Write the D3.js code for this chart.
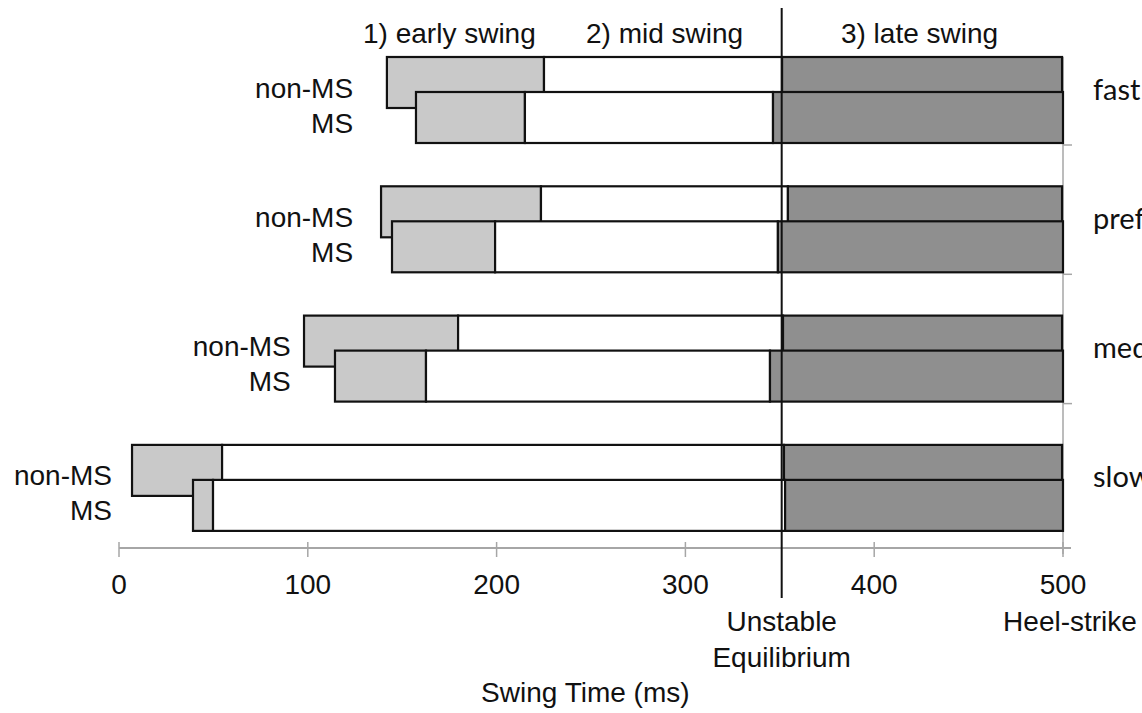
<!DOCTYPE html>
<html>
<head>
<meta charset="utf-8">
<script src="https://cdn.jsdelivr.net/npm/d3@7"></script>
<style>
  html, body { margin: 0; padding: 0; background: #fff; }
  svg { display: block; }
  text { font-family: "Liberation Sans", Arial, sans-serif; fill: #111; }
</style>
</head>
<body>
<svg id="chart" width="1142" height="713"></svg>
<script>
// ---------------- data ----------------
const groups = ["fast", "preferred", "medium", "slow"];
const subjects = ["non-MS", "MS"];
// phase boundaries (ms) per group, in the order of `groups`
const earlyStartNonMS = [141.9, 138.8, 98.0, 6.9];
const earlyStartMS    = [157.3, 144.6, 114.4, 39.2];
const midStartNonMS   = [225.1, 223.5, 179.6, 54.6];
const midStartMS      = [215.0, 199.2, 162.6, 49.8];
const lateStartNonMS  = [351.2, 354.3, 351.7, 352.2];
const lateStartMS     = [346.4, 349.0, 344.8, 352.8];
const heelStrikeNonMS = [499.5, 499.5, 499.5, 499.5];
const heelStrikeMS    = [500, 500, 500, 500];
const xTicks = [0, 100, 200, 300, 400, 500];
const phaseNames = ["1) early swing", "2) mid swing", "3) late swing"];
const phaseLabelAt = [175, 289, 424];          // ms
const rowLabelEndAt = [124, 124, 91, -3.7];     // ms (right edge of row labels)
const unstableEquilibrium = 351;               // ms
const heelStrikeAt = 500;                       // ms

// ---------------- scales ----------------
const svg = d3.select("#chart");
const x = d3.scaleLinear().domain([0, 500]).range([119, 1063]);
const y = d3.scaleBand().domain(groups).range([57, 57 + 4 * 129.3]).paddingInner(0).paddingOuter(0);
const rowOffset = d3.scalePoint().domain(subjects).range([0, 35]);
const barH = 51;
const axisY = 548;
const fs = "28px";

const phaseFill = ["#c9c9c9", "#ffffff", "#8f8f8f"];

// build rows
const rows = [];
groups.forEach((g, i) => {
  rows.push({ g, s: "non-MS", b: [earlyStartNonMS[i], midStartNonMS[i], lateStartNonMS[i], heelStrikeNonMS[i]] });
  rows.push({ g, s: "MS", b: [earlyStartMS[i], midStartMS[i], lateStartMS[i], heelStrikeMS[i]] });
});

// ---------------- right category axis ----------------
const gray = "#a6a6a6";
svg.append("line")
  .attr("x1", x(500)).attr("x2", x(500))
  .attr("y1", y(groups[0])).attr("y2", axisY + 6)
  .attr("stroke", gray).attr("stroke-width", 1.5);
svg.selectAll(".rtick").data(groups.slice(0, 3)).enter().append("line")
  .attr("x1", x(500)).attr("x2", x(500) + 9)
  .attr("y1", d => y(d) + 88).attr("y2", d => y(d) + 88)
  .attr("stroke", gray).attr("stroke-width", 1.5);

// ---------------- x axis ----------------
const xAxis = svg.append("g");
xAxis.append("line")
  .attr("x1", x(0)).attr("x2", x(500) + 8)
  .attr("y1", axisY).attr("y2", axisY)
  .attr("stroke", gray).attr("stroke-width", 2);
xAxis.selectAll(".xt").data(xTicks).enter().append("line")
  .attr("x1", d => x(d)).attr("x2", d => x(d))
  .attr("y1", axisY - 6).attr("y2", axisY + 9)
  .attr("stroke", gray).attr("stroke-width", 1.5);
xAxis.selectAll(".xl").data(xTicks).enter().append("text")
  .attr("x", d => x(d)).attr("y", 584)
  .attr("text-anchor", "middle").attr("dominant-baseline", "central")
  .style("font-size", fs)
  .text(d => d);

// ---------------- bars ----------------
rows.forEach(r => {
  const top = y(r.g) + rowOffset(r.s);
  const gRow = svg.append("g");
  gRow.selectAll("rect").data([0, 1, 2]).enter().append("rect")
    .attr("x", k => x(r.b[k]))
    .attr("width", k => x(r.b[k + 1]) - x(r.b[k]))
    .attr("y", top).attr("height", barH)
    .attr("fill", k => phaseFill[k])
    .attr("stroke", "#111").attr("stroke-width", 2.2);
});

// row labels
rows.forEach(r => {
  const gi = groups.indexOf(r.g);
  svg.append("text")
    .attr("x", x(rowLabelEndAt[gi]))
    .attr("y", y(r.g) + rowOffset(r.s) + 31)
    .attr("text-anchor", "end").attr("dominant-baseline", "central")
    .style("font-size", fs)
    .text(r.s);
});

// group labels (right)
svg.selectAll(".gl").data(groups).enter().append("text")
  .attr("x", 1093).attr("y", d => y(d) + 31)
  .attr("dominant-baseline", "central")
  .style("font-family", "Lato, 'Open Sans', sans-serif")
  .style("font-size", "29px")
  .text(d => d);

// ---------------- unstable equilibrium line ----------------
svg.append("line")
  .attr("x1", x(unstableEquilibrium)).attr("x2", x(unstableEquilibrium))
  .attr("y1", 8).attr("y2", 598)
  .attr("stroke", "#111").attr("stroke-width", 2);

// phase labels
svg.selectAll(".pl").data(phaseNames).enter().append("text")
  .attr("x", (d, i) => x(phaseLabelAt[i])).attr("y", 33)
  .attr("text-anchor", "middle").attr("dominant-baseline", "central")
  .style("font-size", fs)
  .text(d => d);

// annotations below axis
svg.append("text").attr("x", x(unstableEquilibrium)).attr("y", 621)
  .attr("text-anchor", "middle").attr("dominant-baseline", "central")
  .style("font-size", fs).text("Unstable");
svg.append("text").attr("x", x(unstableEquilibrium)).attr("y", 657)
  .attr("text-anchor", "middle").attr("dominant-baseline", "central")
  .style("font-size", fs).text("Equilibrium");
svg.append("text").attr("x", x(heelStrikeAt) + 7).attr("y", 621)
  .attr("text-anchor", "middle").attr("dominant-baseline", "central")
  .style("font-size", fs).text("Heel-strike");
svg.append("text").attr("x", x(247)).attr("y", 692)
  .attr("text-anchor", "middle").attr("dominant-baseline", "central")
  .style("font-size", fs).text("Swing Time (ms)");
</script>
</body>
</html>
